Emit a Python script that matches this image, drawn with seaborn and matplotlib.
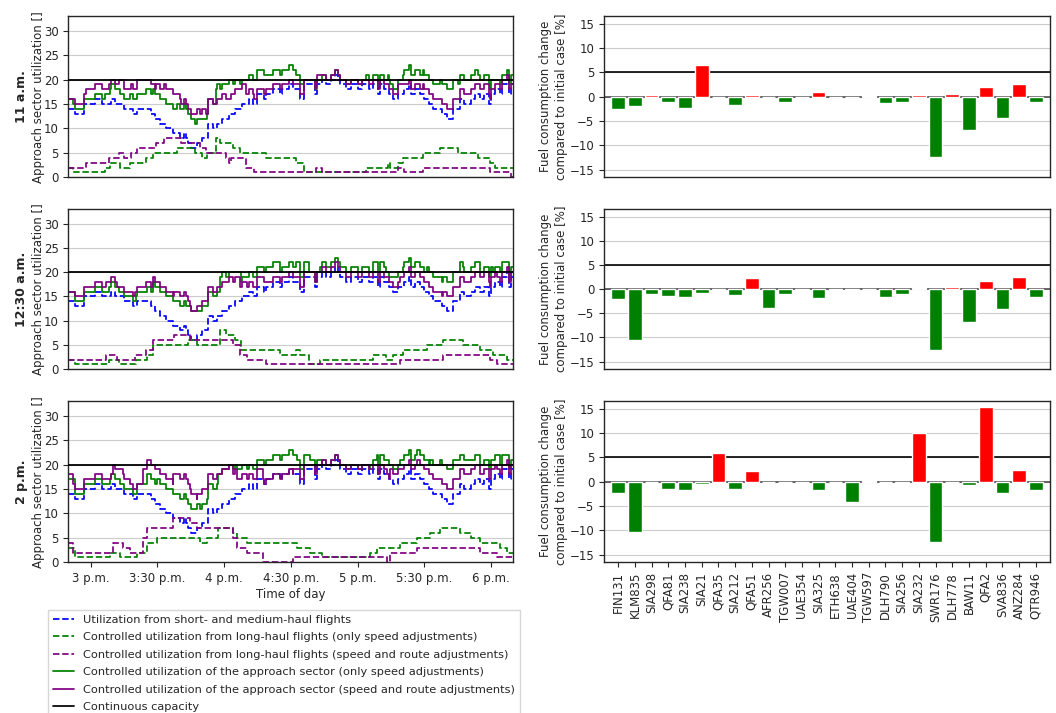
import numpy as np
import matplotlib
matplotlib.use("Agg")
import matplotlib.pyplot as plt
from matplotlib.lines import Line2D
import seaborn as sns

# ---------------------------------------------------------------------------
# Time axis: minutes after 14:50
# ---------------------------------------------------------------------------
time_ticks = [10, 40, 70, 100, 130, 160, 190]
time_labels = ["3 p.m.", "3:30 p.m.", "4 p.m.", "4:30 p.m.", "5 p.m.", "5:30 p.m.", "6 p.m."]
capacity = 20

# Utilization from short- and medium-haul flights (change points: minute, count)
short_t = [0, 3, 7, 12, 15, 19, 21, 25, 29, 31, 37, 39, 41, 44, 47, 50, 52, 53, 54, 55,
           58, 60, 63, 65, 67, 69, 72, 75, 78, 81, 83, 85, 88, 89, 92, 95, 96, 99, 101,
           104, 106, 111, 112, 114, 116, 118, 120, 121, 122, 125, 127, 130, 132, 135,
           137, 139, 140, 142, 144, 146, 148, 151, 153, 154, 156, 158, 160, 162, 164,
           168, 170, 173, 176, 178, 181, 183, 185, 187, 189, 190, 192, 194, 195, 197,
           198, 199]
short_v = [14, 13, 15, 16, 15, 16, 15, 14, 13, 14, 13, 12, 11, 10, 9, 8, 9, 8, 7, 6,
           7, 8, 11, 10, 11, 12, 13, 14, 15, 16, 15, 17, 16, 17, 18, 17, 18, 19, 18,
           16, 19, 17, 19, 20, 19, 20, 21, 20, 19, 18, 19, 18, 19, 18,
           19, 17, 19, 18, 17, 16, 17, 18, 19, 17, 18, 17, 16, 15, 14,
           13, 12, 14, 16, 15, 16, 17, 16, 17, 15, 17, 18, 17, 19, 20,
           17, 19]

# Long-haul flights, 11 a.m. scenario
speed_11_t = [0, 2, 16.5, 18.7, 23.2, 27.7, 35, 38, 49, 57, 60, 62.5, 66.5, 68, 74, 77, 89,
              102.5, 106, 134, 143.5, 144.5, 148, 150.5, 159.5, 167, 175, 184, 189.5, 192]
speed_11_v = [2, 1, 2, 3, 2, 3, 4, 5, 6, 5, 4, 5, 8, 7, 6, 5, 4,
              3, 1, 2, 3, 2, 3, 4, 5, 6, 5, 4, 3, 2]
route_11_t = [0, 8, 18.5, 23, 25, 28, 31, 39.5, 43, 50.5, 59, 62, 71, 72, 73, 80, 83.5,
              111.5, 114, 148, 151, 159.5, 189.5, 199]
route_11_v = [2, 3, 4, 5, 4, 5, 6, 7, 8, 7, 6, 5, 4, 3, 4, 2, 1,
              2, 1, 2, 1, 2, 1, 0]

# Long-haul flights, 12:30 a.m. scenario
speed_1230_t = [0, 3, 18.5, 23, 30.5, 35.5, 38, 54, 58, 68, 71, 75, 77.5, 95, 102.5, 104,
                108, 113, 137, 143, 146, 150.5, 161, 168.5, 177.5, 185, 191, 197]
speed_1230_v = [2, 1, 2, 1, 2, 3, 5, 6, 5, 8, 7, 6, 4, 3, 4, 3,
                1, 2, 3, 2, 3, 4, 5, 6, 5, 4, 3, 2]
route_1230_t = [0, 17, 22, 30, 35, 38, 47.5, 54.5, 74, 77, 80.5, 89, 149, 168.5, 189.5, 192.5]
route_1230_v = [2, 3, 2, 3, 4, 6, 7, 6, 5, 3, 2, 1, 2, 3, 2, 1]

# Long-haul flights, 2 p.m. scenario
speed_14_t = [0, 3, 18.7, 23.2, 30.7, 35.2, 39.7, 59.2, 62.2, 67.4, 74.2, 75.7, 80.2, 102.6,
              108.6, 113.9, 135.6, 138.6, 149.1, 156.6, 162.5, 167, 176, 181, 185, 194, 197]
speed_14_v = [3, 1, 2, 1, 2, 4, 5, 4, 5, 7, 6, 5, 4, 3,
              2, 1, 2, 3, 4, 5, 6, 7, 6, 5, 4, 3, 2]
route_14_t = [0, 2.3, 20.2, 24.7, 27.7, 33.7, 35.2, 47.2, 54.7, 57.7, 74.2, 75.7, 80.2, 87.6,
              101.1, 143.1, 144.6, 156.6, 185, 192.5]
route_14_v = [4, 2, 4, 3, 2, 5, 7, 9, 8, 7, 5, 3, 2, 0,
              1, 0, 2, 3, 2, 1]

# Fuel consumption change per flight [%]
flights = ["FIN131", "KLM835", "SIA298", "QFA81", "SIA238", "SIA21", "QFA35", "SIA212",
           "QFA51", "AFR256", "TGW007", "UAE354", "SIA325", "ETH638", "UAE404", "TGW597",
           "DLH790", "SIA256", "SIA232", "SWR176", "DLH778", "BAW11", "QFA2", "SVA836",
           "ANZ284", "QTR946"]
fuel_11 = [-2.6, -2.0, 0.4, -1.0, -2.4, 6.6, -0.1, -1.8, 0.4, -0.1, -1.2, -0.1, 1.0,
           -0.1, -0.1, 0.2, -1.4, -1.2, 0.4, -12.5, 0.6, -6.9, 2.0, -4.3, 2.7, -1.2]
fuel_1230 = [-2.1, -10.6, -1.0, -1.5, -1.7, -0.7, -0.1, -1.3, 2.4, -4.0, -1.1, -0.1, -1.9,
             -0.1, -0.1, 0.1, -1.7, -1.1, 0.3, -12.6, 0.5, -6.9, 1.7, -4.2, 2.6, -1.7]
fuel_14 = [-2.3, -10.4, -0.1, -1.5, -1.7, -0.5, 5.8, -1.5, 2.1, -0.1, -0.1, -0.1, -1.7,
           -0.1, -4.2, 0.2, -0.1, -0.3, 10.1, -12.4, -0.1, -0.7, 15.3, -2.3, 2.5, -1.7]
fuel_threshold = 5

row_labels = ["11 a.m.", "12:30 a.m.", "2 p.m."]

BLUE, GREEN, PURPLE, RED = "blue", "green", "purple", "red"
FS = 8.5


def step_on(grid, t_pts, v_pts):
    idx = np.searchsorted(np.asarray(t_pts, float), grid, side="right") - 1
    return np.asarray(v_pts, float)[idx]


sns.set_style("whitegrid", {
    "axes.edgecolor": "0.15",
    "grid.color": "0.8",
    "xtick.bottom": True,
    "ytick.left": True,
})
plt.rcParams.update({
    "font.family": ["DejaVu Sans"],
    "font.size": FS,
    "axes.linewidth": 1.0,
    "xtick.major.size": 3.5,
    "ytick.major.size": 3.5,
    "xtick.color": "0.15",
    "ytick.color": "0.15",
})

fig = plt.figure(figsize=(10.56, 7.13), dpi=100)
W, H = 1056.0, 713.0
rows_px = [(16, 177.3), (209, 369.3), (401, 562.3)]
left_px = (68.3, 513.3)
right_px = (604, 1050)

scenarios = [
    (speed_11_t, speed_11_v, route_11_t, route_11_v, fuel_11),
    (speed_1230_t, speed_1230_v, route_1230_t, route_1230_v, fuel_1230),
    (speed_14_t, speed_14_v, route_14_t, route_14_v, fuel_14),
]

for r, ((top, bot), (sp_t, sp_v, ro_t, ro_v, fuel)) in enumerate(zip(rows_px, scenarios)):
    last = r == len(rows_px) - 1
    ax = fig.add_axes([left_px[0] / W, 1 - bot / H, (left_px[1] - left_px[0]) / W, (bot - top) / H])
    axr = fig.add_axes([right_px[0] / W, 1 - bot / H, (right_px[1] - right_px[0]) / W, (bot - top) / H])

    grid = np.unique(np.concatenate([short_t, sp_t, ro_t, [200]])).astype(float)
    short = step_on(grid, short_t, short_v)
    speed = step_on(grid, sp_t, sp_v)
    route = step_on(grid, ro_t, ro_v)

    common = dict(ax=ax, drawstyle="steps-post", linewidth=1.25, estimator=None)
    sns.lineplot(x=grid, y=short, color=BLUE, linestyle="--", **common)
    sns.lineplot(x=grid, y=speed, color=GREEN, linestyle="--", **common)
    sns.lineplot(x=grid, y=route, color=PURPLE, linestyle="--", **common)
    sns.lineplot(x=grid, y=short + speed, color=GREEN, linestyle="-", **common)
    sns.lineplot(x=grid, y=short + route, color=PURPLE, linestyle="-", **common)
    ax.axhline(capacity, color="black", linewidth=1.3, zorder=3)

    ax.set_xlim(0, 200)
    ax.set_ylim(0, 33)
    ax.set_yticks([0, 5, 10, 15, 20, 25, 30])
    ax.grid(axis="x", visible=False)
    ax.set_ylabel("Approach sector utilization []", fontsize=FS)
    ax.yaxis.set_label_coords(-0.052, 0.5)
    ax.text(-0.106, 0.5, row_labels[r], transform=ax.transAxes, rotation=90,
            ha="center", va="center", fontsize=FS + 0.5, fontweight="bold")
    ax.tick_params(labelsize=FS)
    if last:
        ax.set_xticks(time_ticks)
        ax.set_xticklabels(time_labels)
        ax.set_xlabel("Time of day", fontsize=FS, labelpad=2)
    else:
        ax.set_xticks([])

    # fuel consumption bars
    colors = [RED if v > 0 else GREEN for v in fuel]
    sns.barplot(x=flights, y=fuel, hue=flights, palette=colors, legend=False,
                ax=axr, width=0.82, saturation=1, zorder=3)
    axr.axhline(0, color="0.3", linewidth=1.2, zorder=2)
    axr.axhline(fuel_threshold, color="black", linewidth=1.2, zorder=2)
    axr.set_xlim(-0.85, len(flights) - 0.15)
    axr.set_ylim(-16.6, 16.6)
    axr.set_yticks([-15, -10, -5, 0, 5, 10, 15])
    axr.grid(axis="x", visible=False)
    axr.set_ylabel("Fuel consumption change\ncompared to initial case [%]", fontsize=FS,
                   linespacing=1.3)
    axr.yaxis.set_label_coords(-0.08, 0.5)
    axr.tick_params(labelsize=FS)
    if last:
        axr.set_xticks(range(len(flights)))
        axr.set_xticklabels(flights, rotation=90)
    else:
        axr.set_xticks([])
    axr.set_xlabel("")
    for a in (ax, axr):
        for s in a.spines.values():
            s.set_color("0.15")

handles = [
    Line2D([], [], color=BLUE, linestyle="--", linewidth=1.25),
    Line2D([], [], color=GREEN, linestyle="--", linewidth=1.25),
    Line2D([], [], color=PURPLE, linestyle="--", linewidth=1.25),
    Line2D([], [], color=GREEN, linestyle="-", linewidth=1.25),
    Line2D([], [], color=PURPLE, linestyle="-", linewidth=1.25),
    Line2D([], [], color="black", linestyle="-", linewidth=1.25),
]
labels = [
    "Utilization from short- and medium-haul flights",
    "Controlled utilization from long-haul flights (only speed adjustments)",
    "Controlled utilization from long-haul flights (speed and route adjustments)",
    "Controlled utilization of the approach sector (only speed adjustments)",
    "Controlled utilization of the approach sector (speed and route adjustments)",
    "Continuous capacity",
]
fig.legend(handles, labels, loc="upper left", bbox_to_anchor=(48 / W, 1 - 610 / H),
           fontsize=8.2, frameon=True, fancybox=False, edgecolor="0.8",
           labelspacing=0.66, handlelength=1.9, borderaxespad=0)

fig.savefig("out.png", dpi=100)
